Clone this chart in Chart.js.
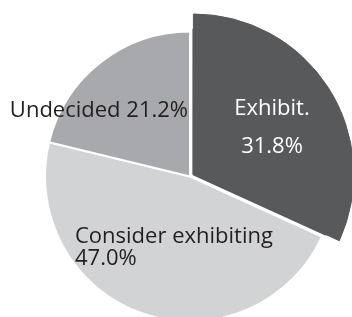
<!DOCTYPE html>
<html>
<head>
<meta charset="utf-8">
<script src="https://cdn.jsdelivr.net/npm/chart.js@4"></script>
<style>
html,body{margin:0;padding:0;background:#fff;}
#wrap{width:352px;height:317px;position:relative;overflow:hidden;}
</style>
</head>
<body>
<div id="wrap"><canvas id="c" width="352" height="317"></canvas></div>
<script>
// ---- data ----
const categories = ['Exhibit.', 'Consider exhibiting', 'Undecided'];
const values = [31.8, 47.0, 21.2];
const colors = ['#58595b', '#d1d3d4', '#a7a9ac'];
const labelColors = ['#ffffff', '#231f20', '#231f20'];

// label placement relative to pie centre: [dx, dy, align, lineGap, twoLines]
const labelLayout = [
  {dx: 82, dy: -61.5, align: 'center', gap: 38, split: true},
  {dx: -115, dy: 66, align: 'left', gap: 22.5, split: true},
  {dx: -2, dy: -60, align: 'right', gap: 0, split: false}
];

const labelPlugin = {
  id: 'sliceLabels',
  afterDatasetsDraw(chart) {
    const meta = chart.getDatasetMeta(1);
    const ctx = chart.ctx;
    ctx.save();
    ctx.font = '22px "Open Sans"';
    ctx.textBaseline = 'alphabetic';
    meta.data.forEach((arc, i) => {
      const L = labelLayout[i];
      const pct = values[i].toFixed(1) + '%';
      ctx.fillStyle = labelColors[i];
      ctx.textAlign = L.align;
      const x = arc.x + L.dx, y = arc.y + L.dy;
      if (L.split) {
        ctx.fillText(categories[i], x, y);
        ctx.fillText(pct, x, y + L.gap);
      } else {
        ctx.fillText(categories[i] + ' ' + pct, x, y);
      }
    });
    ctx.restore();
  }
};

new Chart(document.getElementById('c'), {
  type: 'pie',
  data: {
    labels: categories,
    datasets: [
      { // outer band: only the highlighted slice is visible
        data: values,
        weight: 15,
        radius: 160,
        backgroundColor: colors.map((c, i) => i === 0 ? c : 'rgba(0,0,0,0)'),
        borderColor: colors.map((c, i) => i === 0 ? c : 'rgba(0,0,0,0)'),
        borderWidth: [1, 0, 0],
        offset: [16, 0, 0]
      },
      { // main pie
        data: values,
        weight: 145,
        radius: 160,
        backgroundColor: colors,
        borderColor: [colors[0], '#ffffff', '#ffffff'],
        borderWidth: [2, 2, 2],
        offset: [16, 0, 0]
      }
    ]
  },
  options: {
    responsive: false,
    animation: false,
    devicePixelRatio: 1,
    layout: {padding: {left: 28, right: 0, top: 36, bottom: 0}},
    plugins: {legend: {display: false}, tooltip: {enabled: false}},
    events: []
  },
  plugins: [labelPlugin]
});
</script>
</body>
</html>
